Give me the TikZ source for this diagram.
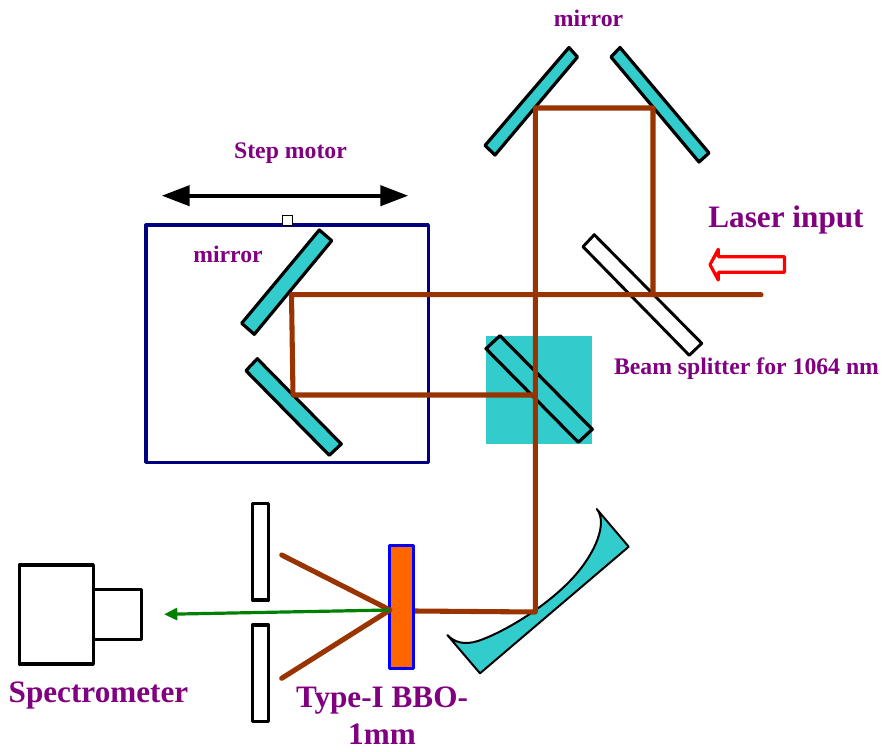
\documentclass[tikz,border=0pt]{standalone}
\usepackage{fontspec}
\setmainfont{Liberation Serif}
\usetikzlibrary{arrows.meta}
\definecolor{tealfill}{HTML}{33CCCC}
\definecolor{beamcol}{HTML}{993300}
\definecolor{labelcol}{HTML}{800080}
\definecolor{greenbeam}{HTML}{008000}
\definecolor{orangefill}{HTML}{FF6600}
\definecolor{stagecol}{HTML}{000080}
\tikzset{
  optic/.style={draw=black,line width=2.4pt,line join=round,fill=tealfill},
  clearplate/.style={draw=black,line width=2.2pt,line join=round,fill=white},
  box/.style={draw=black,line width=2.4pt,line join=round,fill=white},
  beam/.style={draw=beamcol,line width=3.8pt,line join=round,line cap=round},
  smalltext/.style={text=labelcol,font=\fontsize{17.8pt}{20pt}\selectfont\bfseries,inner sep=0pt},
  largetext/.style={text=labelcol,font=\fontsize{23.4pt}{28pt}\selectfont\bfseries,inner sep=0pt,align=center}
}
\begin{document}
\begin{tikzpicture}[x=0.75pt,y=-0.75pt]
\useasboundingbox (0,0) rectangle (882,752);
% step stage
\draw[draw=stagecol,line width=2.4pt,line join=round] (146,225) rectangle (428.3,462.3);
\node[draw=black,line width=0.9pt,fill=white,minimum width=7pt,minimum height=7pt,inner sep=0pt] (carriage) at (287.5,220.5) {};
\coordinate (arrowL) at (161.7,195.7);
\coordinate (arrowR) at (408.3,195.7);
\draw[line width=3.2pt,{Triangle[length=21pt,width=15pt]}-{Triangle[length=21pt,width=15pt]}] (arrowL) -- (arrowR);
% mirrors
\draw[optic] (569,47.5) -- (577.5,57) -- (495,155) -- (485,145.5) -- cycle;
\draw[optic] (620,47.5) -- (709,153) -- (699,162) -- (611,57) -- cycle;
\draw[optic] (319.3,230) -- (331.7,240.7) -- (254.3,334.3) -- (241.7,323.3) -- cycle;
\draw[optic] (257.3,358.7) -- (341.3,444) -- (329.3,455.3) -- (246,370.7) -- cycle;
% splitters
\fill[tealfill] (486,336) rectangle (592,444);
\draw[optic] (500,335.7) -- (592.3,429.3) -- (578.3,442.3) -- (486,348.7) -- cycle;
\draw[clearplate] (594.3,234.7) -- (701.7,343.3) -- (689.3,355.3) -- (583,246.7) -- cycle;
% parabolic mirror
\draw[draw=black,line width=1.5pt,line join=round,fill=tealfill] (447.3,635) -- (480,673.3) -- (628.7,546.7) -- (596.7,509)
  .. controls (606,520) and (600,545) .. (578,572)
  .. controls (555,600) and (510,630) .. (478,641)
  .. controls (465,645) and (455,643) .. (447.3,635) -- cycle;
% beam path
\coordinate (in) at (761,294.7);
\coordinate (bsp) at (653,294.7);
\coordinate (topR) at (653,108);
\coordinate (topL) at (535.3,108);
\coordinate (foc) at (535.3,612);
\coordinate (crystalR) at (414.3,611);
\coordinate (m1) at (291.5,294.7);
\coordinate (m2) at (293,395);
\coordinate (bs2) at (533,395);
\draw[beam] (in) -- (m1) -- (m2) -- (bs2);
\draw[beam] (bsp) -- (topR) -- (topL) -- (foc) -- (crystalR);
% slits and crystal
\draw[box] (252.7,503.3) rectangle (268.7,600);
\draw[box] (252.7,625) rectangle (268.7,721.7);
\draw[draw=blue,line width=2.4pt,line join=round,fill=orangefill] (389.7,545.7) rectangle (413.7,668.7);
\coordinate (cross) at (390,610);
\coordinate (out1) at (281.7,555);
\coordinate (out2) at (281.7,678.3);
\coordinate (signal) at (164,614.3);
\draw[beam] (out1) -- (cross) -- (out2);
\draw[draw=greenbeam,line width=2.4pt,-{Triangle[length=10pt,width=9pt]}] (cross) -- (signal);
% spectrometer
\draw[box] (93.3,589.3) rectangle (141.7,639.3);
\draw[box] (19.3,565) rectangle (93.3,664);
% laser arrow
\draw[draw=red,line width=2.4pt,line join=round,fill=white] (784.5,256.7) -- (718.3,256.7) -- (718.3,249.3) -- (710,264.7) -- (718.3,280) -- (718.3,272.3) -- (784.5,272.3) -- cycle;
% labels
\node[smalltext] (t1) at (588.5,18.5) {mirror};
\node[smalltext] (t2) at (290.5,153) {Step motor};
\node[smalltext] (t3) at (228,254.5) {mirror};
\node[smalltext] (t4) at (746.5,369) {Beam splitter for 1064 nm};
\node[largetext] (t5) at (786,220) {Laser input};
\node[largetext] (t6) at (98.5,695) {Spectrometer};
\node[largetext] (t7) at (382,700.5) {Type-I BBO-};
\node[largetext] (t8) at (382,734) {1mm};
\end{tikzpicture}
\end{document}
